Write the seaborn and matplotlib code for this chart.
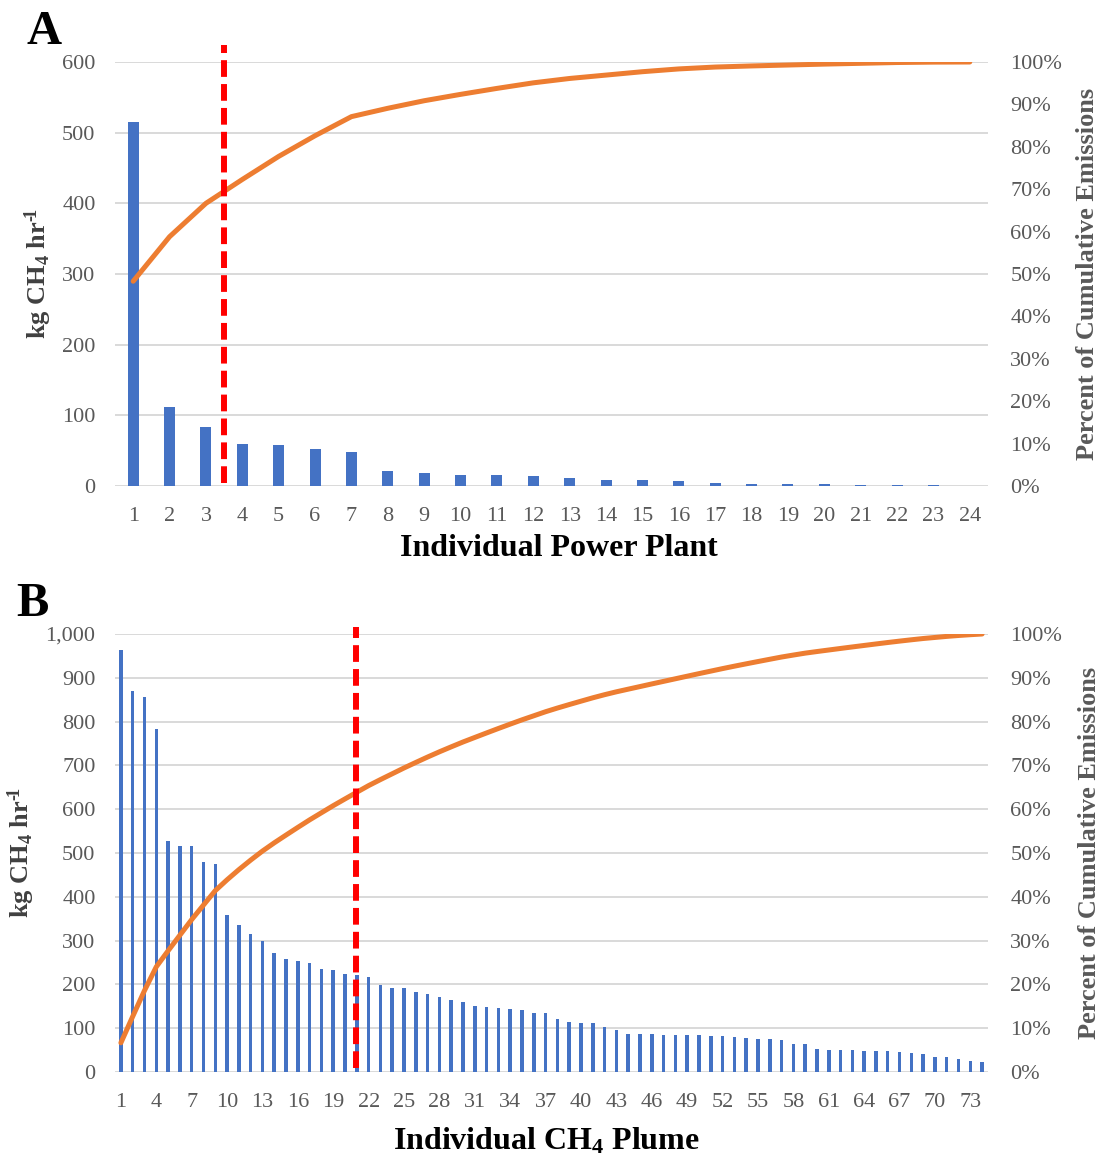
import numpy as np
import pandas as pd
import matplotlib
matplotlib.use("Agg")
import matplotlib.pyplot as plt
import matplotlib.ticker as mticker
import seaborn as sns

# ---------------- data ----------------
plant_ids = list(range(1, 25))
plant_emissions = [515, 112, 84, 60, 58, 52, 48, 21, 19, 16, 15, 14, 11, 8.5,
                   8.5, 7, 4.7, 2.8, 2.3, 2.3, 2.0, 2.0, 1.0, 0.3]
plant_cutoff = 3.5  # dashed line position (plant number)

plume_ids = list(range(1, 75))
plume_emissions = [963, 869, 856, 784, 528, 515, 515, 480, 476, 358,
                   335, 315, 298, 272, 257, 253, 248, 235, 234, 223,
                   221, 218, 198, 192, 192, 182, 179, 172, 164, 160,
                   150, 149, 147, 144, 141, 134, 134, 121, 115, 112,
                   111, 103, 95, 87, 86, 87, 85, 85, 85, 85,
                   83, 83, 80, 77, 76, 75, 74, 65, 63, 53,
                   51, 51, 50, 49, 49, 48, 46, 44, 42, 35,
                   35, 30, 26, 23]
plume_cutoff = 20.95  # dashed line position (plume number)

panel_a_yticks = [0, 100, 200, 300, 400, 500, 600]
panel_b_yticks = [0, 100, 200, 300, 400, 500, 600, 700, 800, 900, 1000]
pct_ticks = [0, 0.1, 0.2, 0.3, 0.4, 0.5, 0.6, 0.7, 0.8, 0.9, 1.0]

# ---------------- style ----------------
sns.set_style("white")
plt.rcParams['font.family'] = ['Liberation Serif', 'DejaVu Serif']
plt.rcParams['mathtext.default'] = 'regular'

BAR = '#4472C4'
LINE = '#ED7D31'
RED = '#FF0000'
GRID = '#D9D9D9'
TICK = '#595959'

W, H = 1101, 1155
fig = plt.figure(figsize=(W / 100, H / 100), dpi=100)


def px_axes(left, top, right, bottom):
    return fig.add_axes([left / W, 1 - bottom / H, (right - left) / W, (bottom - top) / H])


def draw_panel(ax, ids, values, cutoff, yticks, xtick_step, yfmt, red_top, red_bot):
    df = pd.DataFrame({'id': [str(i) for i in ids], 'val': values})
    n = len(ids)
    sns.barplot(data=df, x='id', y='val', ax=ax, color=BAR, saturation=1,
                width=0.3, order=df['id'].tolist(), linewidth=0, zorder=2)
    ax.set_xlim(-0.5, n - 0.5)
    ax.set_ylim(yticks[0], yticks[-1])
    ax.set_yticks(yticks)
    ax.yaxis.set_major_formatter(yfmt)
    ticks = list(range(0, n, xtick_step))
    ax.set_xticks(ticks)
    ax.set_xticklabels([str(ids[i]) for i in ticks])
    ax.set_xlabel('')
    ax.set_ylabel('')
    ax.set_axisbelow(True)
    ax.yaxis.grid(True, color=GRID, lw=1.4)
    for s in ax.spines.values():
        s.set_visible(False)
    ax.tick_params(axis='y', length=0, pad=14, labelsize=16, labelcolor=TICK)
    ax.tick_params(axis='x', length=0, pad=15, labelsize=16, labelcolor=TICK)

    ax2 = ax.twinx()
    cum = np.cumsum(values) / np.sum(values)
    ldf = pd.DataFrame({'pos': np.arange(n), 'cum': cum})
    sns.lineplot(data=ldf, x='pos', y='cum', ax=ax2, color=LINE, lw=3.6,
                 solid_capstyle='round', solid_joinstyle='round')
    ax2.set_ylim(0, 1)
    ax2.set_yticks(pct_ticks)
    ax2.yaxis.set_major_formatter(mticker.PercentFormatter(1.0, decimals=0))
    ax2.set_ylabel('')
    ax2.set_xlabel('')
    for s in ax2.spines.values():
        s.set_visible(False)
    ax2.tick_params(axis='y', length=0, pad=16, labelsize=16, labelcolor=TICK)
    ax2.set_xlim(-0.5, n - 0.5)
    ax2.axvline(cutoff - 1, ymin=red_bot, ymax=red_top, color=RED, lw=4.3,
                ls=(0, (2.8, 1.2)), clip_on=False, zorder=5)
    return ax2


axA = px_axes(115, 62, 988, 486)
draw_panel(axA, plant_ids, plant_emissions, plant_cutoff, panel_a_yticks, 1,
           mticker.FuncFormatter(lambda v, p: f'{v:,.0f}'), 1.04, 0.007)

axB = px_axes(115, 634, 988, 1072)
draw_panel(axB, plume_ids, plume_emissions, plume_cutoff, panel_b_yticks, 3,
           mticker.FuncFormatter(lambda v, p: f'{v:,.0f}'), 1.016, 0.009)

# labels
ylab = 'kg CH$_4$ hr$^{\u2010\\!1}$'
lab_kw = dict(fontweight='bold', fontsize=19, ha='center', va='center', rotation=90)
fig.text(38 / W, 1 - 274 / H, ylab, color='#404040', **lab_kw)
fig.text(1088 / W, 1 - 274 / H, 'Percent of Cumulative Emissions', color=TICK, **lab_kw)
fig.text(21 / W, 1 - 853 / H, ylab, color='#404040', **lab_kw)
fig.text(1090 / W, 1 - 853 / H, 'Percent of Cumulative Emissions', color=TICK, **lab_kw)

fig.text(559 / W, 1 - 548 / H, 'Individual Power Plant', fontsize=23,
         fontweight='bold', ha='center', va='center', color='black')
fig.text(546 / W, 1 - 1141 / H, r'Individual CH$_4$ Plume', fontsize=23,
         fontweight='bold', ha='center', va='center', color='black')

fig.text(44 / W, 1 - 32 / H, 'A', fontsize=35, fontweight='bold',
         ha='center', va='center', color='black')
fig.text(32 / W, 1 - 604 / H, 'B', fontsize=35, fontweight='bold',
         ha='center', va='center', color='black')

fig.savefig('out.png', dpi=100, facecolor='white')
